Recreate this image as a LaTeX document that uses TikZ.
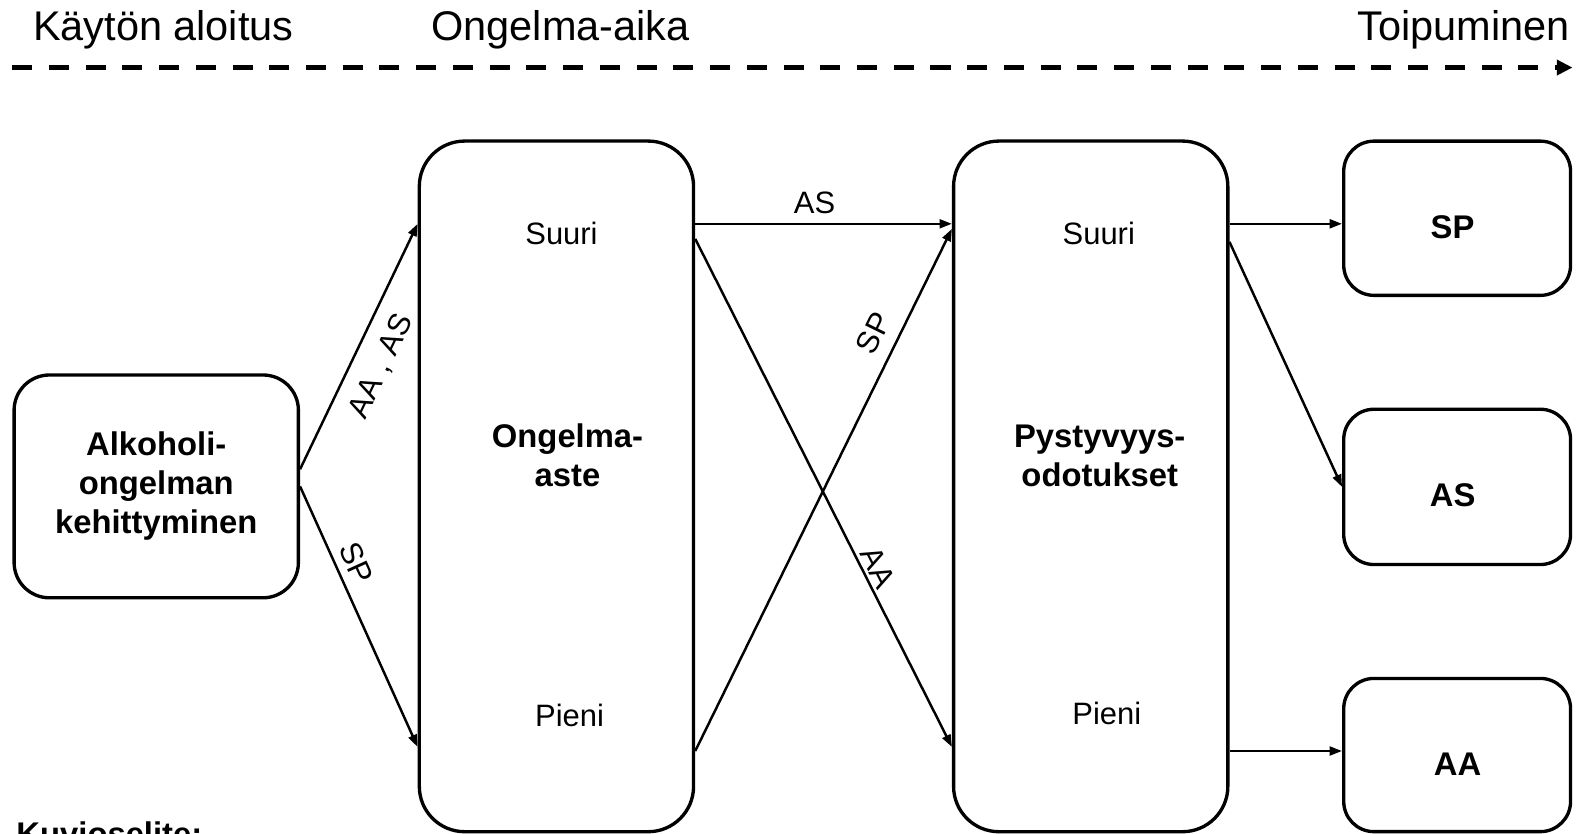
\documentclass[tikz,border=0pt]{standalone}
\usepackage{fontspec}
\setmainfont{Liberation Sans}
\usetikzlibrary{arrows.meta,calc}
\begin{document}
\begin{tikzpicture}[x=0.020161cm,y=-0.020161cm,
  box/.style={draw, line width=1.9pt, rounded corners=#1, inner sep=0pt, align=center},
  box/.default=0.706cm,
  lbl/.style={font=\fontsize{17.6}{20}\selectfont, inner sep=2pt},
  btxt/.style={font=\fontsize{18.65}{22.2}\selectfont\bfseries, align=center},
  hdr/.style={font=\fontsize{23.6}{26}\selectfont},
  conn/.style={line width=1.4pt, -{Triangle[length=7pt,width=5pt]}},
  timeline/.style={line width=2.8pt, dash pattern=on 11.4pt off 9.5pt, -{Triangle[length=9pt,width=8.5pt]}}
]
\useasboundingbox (0,0) rectangle (1566.4,827.3);

% header
\node[hdr, anchor=base] (h1) at (162,40) {Käytön aloitus};
\node[hdr, anchor=base] (h2) at (556,40) {Ongelma-aika};
\node[hdr, anchor=base] (h3) at (1452,40) {Toipuminen};
\coordinate (tl0) at (12,67);
\coordinate (tl1) at (1560,67);
\draw[timeline] (tl0) -- (tl1);

% boxes
\node[box, btxt, minimum width=5.685cm, minimum height=4.455cm] (alk) at (155,482.5) {Alkoholi-\\ongelman\\kehittyminen};
\node[box=0.907cm, minimum width=5.484cm, minimum height=13.81cm] (ong) at (552,482.5) {};
\node[box=0.907cm, minimum width=5.484cm, minimum height=13.81cm] (pys) at (1082,482.5) {};
\node[box=0.605cm, minimum width=4.536cm, minimum height=3.084cm] (spb) at (1445.5,216.5) {};
\node[box=0.605cm, minimum width=4.536cm, minimum height=3.105cm] (asb) at (1445.5,483) {};
\node[box=0.605cm, minimum width=4.536cm, minimum height=3.064cm] (aab) at (1445.5,749) {};

% texts in boxes
\node[lbl] (o1) at (557,232) {Suuri};
\node[btxt] (o2) at (563,452) {Ongelma-\\aste};
\node[lbl] (o3) at (565,710) {Pieni};
\node[lbl] (p1) at (1090,232) {Suuri};
\node[btxt] (p2) at (1091,452) {Pystyvyys-\\odotukset};
\node[lbl] (p3) at (1098,708) {Pieni};
\node[btxt] (t1) at (1441,225) {SP};
\node[btxt] (t2) at (1441,491) {AS};
\node[btxt] (t3) at (1446,758) {AA};

% row coordinates
\coordinate (rowS) at (0,222);
\coordinate (rowS2) at (0,237);
\coordinate (rowSP) at (0,227);
\coordinate (rowP) at (0,741);
\coordinate (rowP2) at (0,745);
\coordinate (rowR) at (0,240);

% connectors
\draw[conn] ($(alk.east)+(0,-17)$) -- node[sloped, below=6.5pt, pos=0.47, lbl] {AA\,\,,\,\,AS} (ong.west |- rowS);
\draw[conn] (alk.east) -- node[sloped, above=2.5pt, pos=0.325, lbl] {SP} (ong.west |- rowP);
\draw[conn] (ong.east |- rowS) -- node[above=3pt, pos=0.465, lbl] {AS} (pys.west |- rowS);
\draw[conn] (ong.east |- rowS2) -- node[sloped, above, pos=0.66, lbl] {AA} (pys.west |- rowP);
\draw[conn] (ong.east |- rowP2) -- node[sloped, above=5pt, pos=0.78, lbl] {SP} (pys.west |- rowSP);
\draw[conn] (pys.east |- rowS) -- (spb.west |- rowS);
\draw[conn] (pys.east |- rowR) -- (asb.west);
\draw[conn] (pys.east |- rowP2) -- (aab.west |- rowP2);

% legend (cut off at the bottom edge)
\node[btxt, inner sep=0pt, anchor=north west] (leg) at (16,815) {Kuvioselite:};
\end{tikzpicture}
\end{document}
